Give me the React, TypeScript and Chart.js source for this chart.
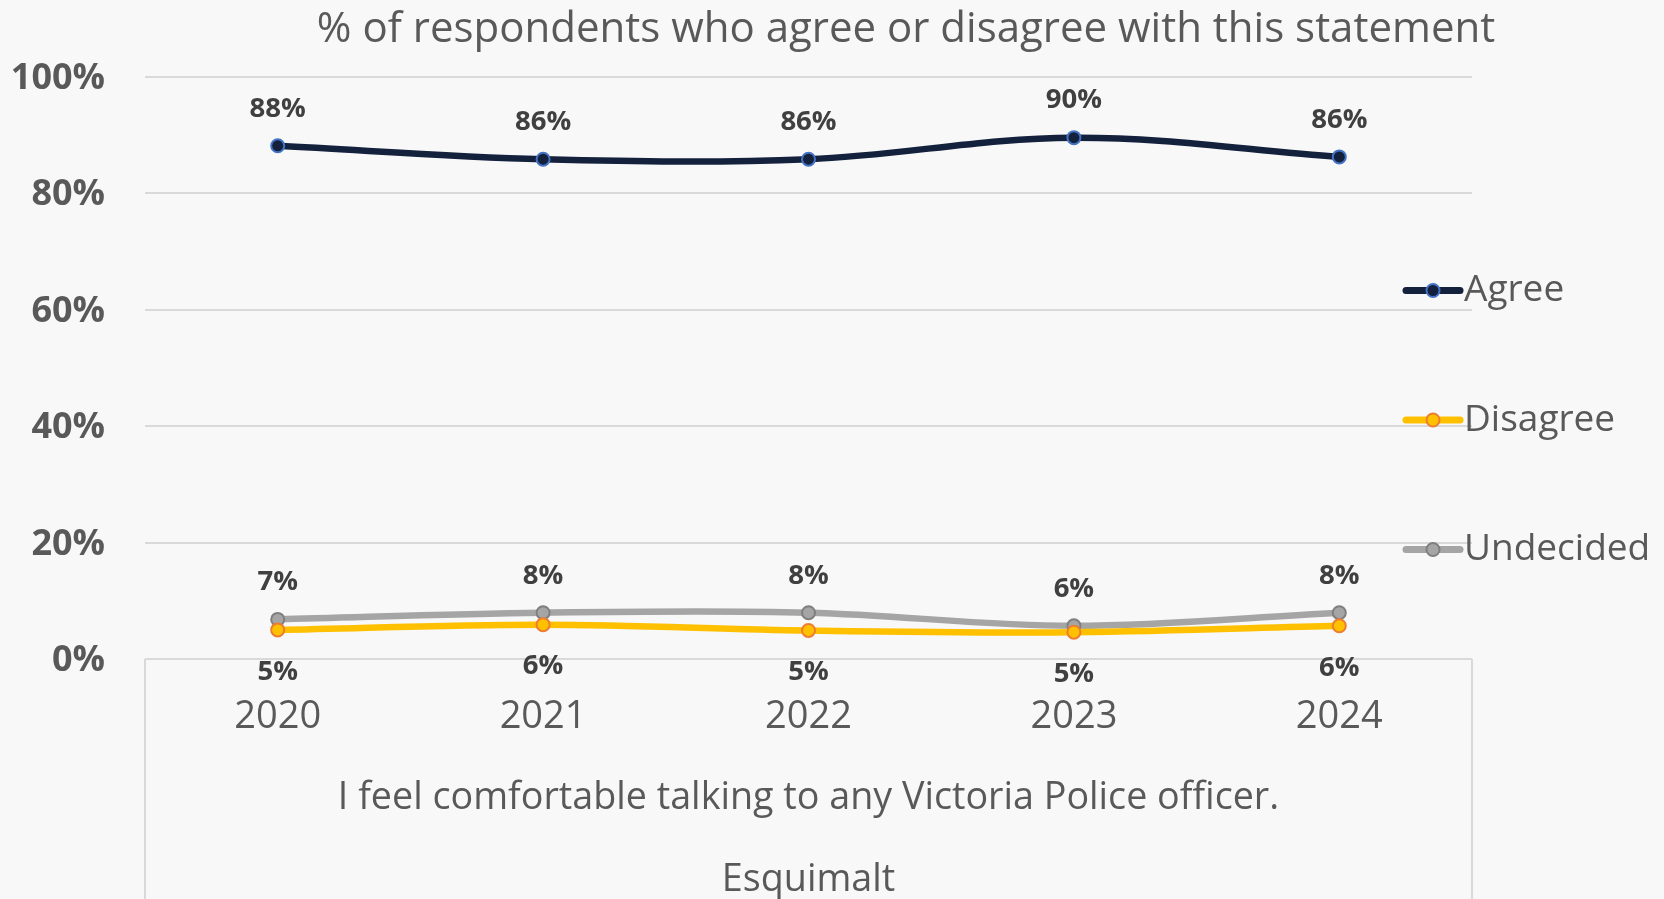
import React, { useEffect, useRef } from "react";
import { Chart, registerables } from "chart.js";

Chart.register(...registerables);

const years = ["2020", "2021", "2022", "2023", "2024"];
const agree = [88.1, 85.8, 85.8, 89.5, 86.2];
const disagree = [5.0, 5.9, 4.9, 4.6, 5.7];
const undecided = [6.8, 7.95, 7.95, 5.7, 7.95];
const seriesNames = ["Agree", "Disagree", "Undecided"];
const labelSides = ["above", "below", "above"];
const titleText = "% of respondents who agree or disagree with this statement";
const axisTitleLines = [
  "I feel comfortable talking to any Victoria Police officer.",
  "Esquimalt",
];

const FONT = "'Open Sans', 'Noto Sans', sans-serif";
const W = 1664;
const H = 899;

const bgPlugin = {
  id: "bg",
  beforeDraw(chart: any) {
    const ctx = chart.ctx;
    ctx.save();
    ctx.fillStyle = "#F8F8F8";
    ctx.fillRect(0, 0, chart.width, chart.height);
    ctx.restore();
  },
};

const decorPlugin = {
  id: "decor",
  afterDatasetsDraw(chart: any) {
    const ctx = chart.ctx;
    ctx.save();
    ctx.font = `bold 27.5px ${FONT}`;
    ctx.fillStyle = "#404040";
    ctx.textAlign = "center";
    ctx.textBaseline = "middle";
    chart.data.datasets.forEach((ds: any, i: number) => {
      const meta = chart.getDatasetMeta(i);
      meta.data.forEach((pt: any, j: number) => {
        const v = Math.round(ds.data[j]);
        const dy = labelSides[i] === "above" ? -37 : 42;
        ctx.fillText(`${v}%`, pt.x, pt.y + dy);
      });
    });
    ctx.restore();
  },
  afterDraw(chart: any) {
    const ctx = chart.ctx;
    const area = chart.chartArea;
    ctx.save();
    // title
    ctx.fillStyle = "#595959";
    ctx.font = `42px ${FONT}`;
    ctx.textAlign = "center";
    ctx.textBaseline = "middle";
    ctx.fillText(titleText, 906, 30);

    // multi-level box lines
    ctx.strokeStyle = "#D9D9D9";
    ctx.lineWidth = 2;
    ctx.beginPath();
    ctx.moveTo(area.left, area.bottom);
    ctx.lineTo(area.left, H);
    ctx.moveTo(area.right, area.bottom);
    ctx.lineTo(area.right, H);
    ctx.stroke();

    // axis title lines
    const cx = (area.left + area.right) / 2;
    ctx.fillStyle = "#595959";
    ctx.font = `37.7px ${FONT}`;
    ctx.fillText(axisTitleLines[0], cx, area.bottom + 139);
    ctx.fillText(axisTitleLines[1], cx, area.bottom + 221);

    // legend
    const legendTop = 290.5;
    const legendGap = 129.5;
    chart.data.datasets.forEach((ds: any, i: number) => {
      const y = legendTop + i * legendGap;
      ctx.strokeStyle = ds.borderColor;
      ctx.lineWidth = 7;
      ctx.lineCap = "round";
      ctx.beginPath();
      ctx.moveTo(1406, y);
      ctx.lineTo(1460, y);
      ctx.stroke();
      ctx.beginPath();
      ctx.arc(1433, y, ds.pointRadius, 0, Math.PI * 2);
      ctx.fillStyle = ds.pointBackgroundColor;
      ctx.fill();
      ctx.lineWidth = ds.pointBorderWidth;
      ctx.strokeStyle = ds.pointBorderColor;
      ctx.stroke();
      ctx.fillStyle = "#595959";
      ctx.font = `37px ${FONT}`;
      ctx.textAlign = "left";
      ctx.fillText(seriesNames[i], 1464, y);
    });
    ctx.restore();
  },
};

export default function App() {
  const ref = useRef<HTMLCanvasElement | null>(null);
  useEffect(() => {
    document.body.style.margin = "0";
    const canvas = ref.current;
    if (!canvas) return;
    const mk = (data: number[], line: string, fill: string, border: string) => ({
      data,
      borderColor: line,
      backgroundColor: line,
      borderWidth: 6.5,
      pointRadius: 6.5,
      pointHoverRadius: 6.5,
      pointBackgroundColor: fill,
      pointBorderColor: border,
      pointBorderWidth: 2,
      tension: 0.35,
      fill: false,
    });
    const chart = new Chart(canvas, {
      type: "line",
      data: {
        labels: years,
        datasets: [
          { label: seriesNames[0], ...mk(agree, "#14213D", "#14213D", "#4472C4") },
          { label: seriesNames[1], ...mk(disagree, "#FFC000", "#FFC000", "#ED7D31") },
          { label: seriesNames[2], ...mk(undecided, "#A5A5A5", "#A5A5A5", "#7F7F7F") },
        ],
      },
      options: {
        responsive: false,
        animation: false,
        devicePixelRatio: 1,
        layout: { padding: { left: 0, top: 76.5, right: 192, bottom: 0 } },
        plugins: {
          legend: { display: false },
          title: { display: false },
          tooltip: { enabled: false },
        },
        scales: {
          x: {
            type: "category",
            offset: true,
            grid: { display: false, drawTicks: false },
            border: { display: false },
            ticks: {
              color: "#595959",
              font: { family: FONT, size: 38 },
              padding: 35,
              maxRotation: 0,
            },
            afterFit(scale: any) {
              scale.height = 240;
            },
          },
          y: {
            min: 0,
            max: 100,
            grid: { color: "#D9D9D9", lineWidth: 2, drawTicks: false },
            border: { display: false },
            ticks: {
              stepSize: 20,
              color: "#595959",
              font: { family: FONT, size: 36, weight: "bold" },
              padding: 40,
              labelOffset: 2,
              callback: (v: any) => `${v}%`,
            },
            afterFit(scale: any) {
              scale.width = 145;
            },
          },
        },
      },
      plugins: [bgPlugin, decorPlugin],
    } as any);
    return () => chart.destroy();
  }, []);
  return (
    <div
      style={{
        position: "fixed",
        left: 0,
        top: 0,
        width: W,
        height: H,
        background: "#F8F8F8",
      }}
    >
      <canvas ref={ref} width={W} height={H} style={{ width: W, height: H, display: "block" }} />
    </div>
  );
}
